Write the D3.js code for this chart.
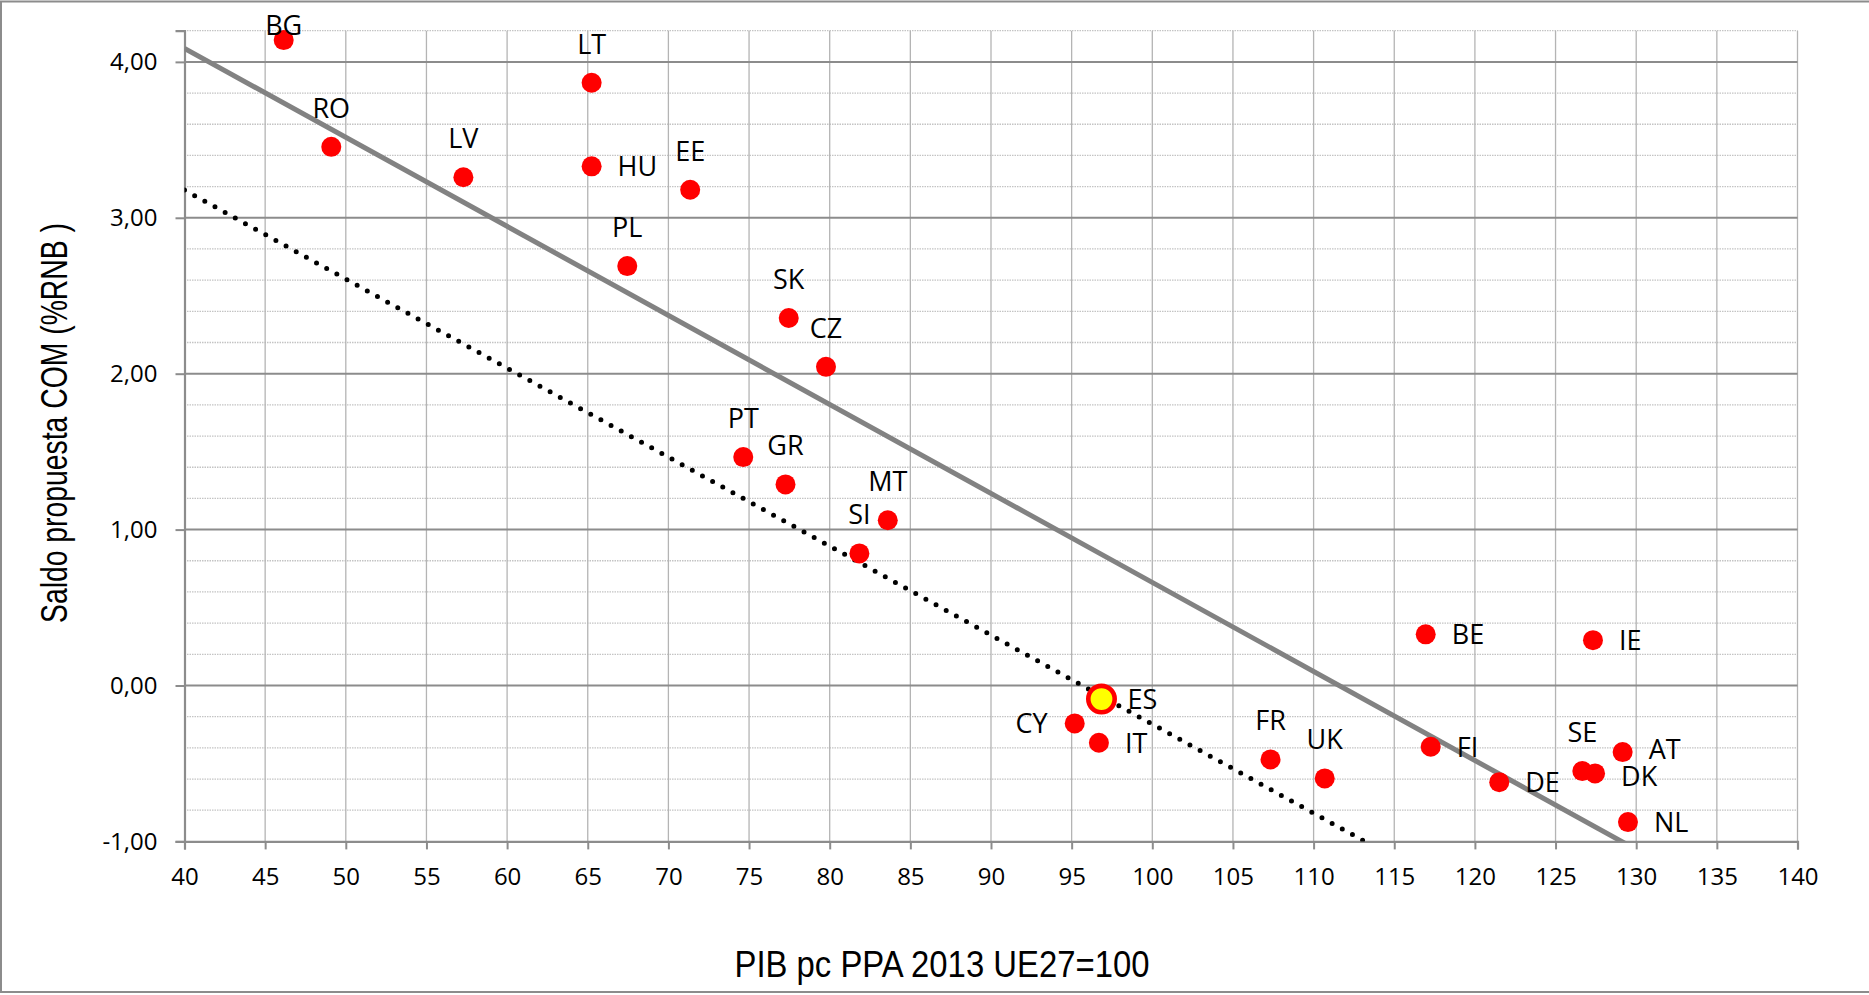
<!DOCTYPE html>
<html><head><meta charset="utf-8">
<script src="https://cdn.jsdelivr.net/npm/d3@7"></script>
<style>body{margin:0;background:#fff} svg{display:block}</style>
</head><body>
<svg id="chart" width="1869" height="995"></svg>
<script>
// ---- data ----
const countries = ["BG","RO","LV","LT","HU","EE","PL","SK","CZ","PT","GR","MT","SI","ES","CY","IT","FR","UK","BE","IE","FI","DE","SE","DK","AT","NL"];
const gdpPpa = [46.15,49.10,57.29,65.24,65.24,71.35,67.45,77.46,79.77,74.64,77.26,83.60,81.84,96.85,95.19,96.69,107.33,110.69,116.95,127.32,117.26,121.51,126.66,127.45,129.16,129.49];
const saldo  = [4.14,3.455,3.26,3.866,3.33,3.18,2.69,2.357,2.044,1.465,1.29,1.06,0.847,-0.087,-0.243,-0.367,-0.474,-0.596,0.328,0.291,-0.393,-0.62,-0.549,-0.564,-0.427,-0.876];
const highlight = "ES";
const xTicks = [40,45,50,55,60,65,70,75,80,85,90,95,100,105,110,115,120,125,130,135,140];
const yTicks = [-1,0,1,2,3,4];
const yMinor = [-0.8,-0.6,-0.4,-0.2,0.2,0.4,0.6,0.8,1.2,1.4,1.6,1.8,2.2,2.4,2.6,2.8,3.2,3.4,3.6,3.8,4.2];
const trendSlope = -0.0571;
const trendIntercept = 6.371;     // solid grey trend line
const spainIntercept = 5.462;     // dotted parallel line through ES
const xTitle = "PIB pc PPA 2013 UE27=100";
const yTitle = "Saldo propuesta COM (%RNB )";

// label placement (style)
const labelSide = {HU:"right",ES:"right",CY:"left",IT:"right",BE:"right",IE:"right",FI:"right",DE:"right",DK:"right",AT:"right",NL:"right"};
const labelNudge = {AT:-3, DK:3};

// ---- layout ----
const svg = d3.select("#chart");
const x = d3.scaleLinear().domain([40,140]).range([184.5,1797.5]);
const y = d3.scaleLinear().domain([-1,4.2]).range([841.4,30.7]);
const loc = d3.formatLocale({decimal:",",thousands:".",grouping:[3],currency:["","€"],minus:"-"});
const fmt = loc.format(".2f");
const tickFont = "'Open Sans', 'Noto Sans', sans-serif";
const titleFont = "'Liberation Sans Narrow','Arial Narrow','Liberation Sans',Arial,sans-serif";

// outer border
svg.append("rect").attr("x",1).attr("y",1.5).attr("width",1900).attr("height",990.5)
  .attr("fill","none").attr("stroke","#8c8c8c").attr("stroke-width",2);

const X0 = x.range()[0], X1 = x.range()[1], Y0 = y.range()[0], Y1 = y.range()[1];

// minor horizontal gridlines (dotted)
svg.append("g").selectAll("line").data(yMinor).join("line")
  .attr("x1",X0).attr("x2",X1).attr("y1",d=>y(d)).attr("y2",d=>y(d))
  .attr("stroke","#c4c4c4").attr("stroke-width",1.3).attr("stroke-dasharray","1.5 1");

// vertical gridlines
svg.append("g").selectAll("line").data(xTicks.slice(1)).join("line")
  .attr("x1",d=>x(d)).attr("x2",d=>x(d)).attr("y1",Y1).attr("y2",Y0)
  .attr("stroke","#b4b4b4").attr("stroke-width",1.3);

// major horizontal gridlines
svg.append("g").selectAll("line").data(yTicks.slice(1)).join("line")
  .attr("x1",X0).attr("x2",X1).attr("y1",d=>y(d)).attr("y2",d=>y(d))
  .attr("stroke","#8c8c8c").attr("stroke-width",2);

// axes
const xAxis = d3.axisBottom(x).tickValues(xTicks).tickSize(8).tickPadding(6).tickFormat(d=>d);
const gx = svg.append("g").attr("transform",`translate(0,${Y0})`).call(xAxis);
gx.select(".domain").attr("stroke","#8c8c8c").attr("stroke-width",2.2);
gx.selectAll(".tick line").attr("stroke","#8c8c8c").attr("stroke-width",2);
gx.selectAll("text").attr("font-family",tickFont).attr("font-size",24).attr("fill","#000")
  .attr("dy",null).attr("y",44);

const yAxis = d3.axisLeft(y).tickValues(yTicks).tickSize(9).tickPadding(18).tickFormat(fmt);
const gy = svg.append("g").attr("transform",`translate(${X0},0)`).call(yAxis);
gy.select(".domain").attr("stroke","#8c8c8c").attr("stroke-width",2.2);
gy.selectAll(".tick line").attr("stroke","#8c8c8c").attr("stroke-width",2);
gy.selectAll("text").attr("font-family",tickFont).attr("font-size",24).attr("fill","#000");

// clip for trend lines
svg.append("clipPath").attr("id","plotclip").append("rect")
  .attr("x",X0).attr("y",Y1).attr("width",X1-X0).attr("height",Y0-Y1);

const lineGen = d3.line().x(d=>x(d[0])).y(d=>y(d[1]));
const xs = x.domain();
svg.append("path").attr("clip-path","url(#plotclip)")
  .attr("d",lineGen(xs.map(v=>[v, trendIntercept + trendSlope*v])))
  .attr("fill","none").attr("stroke","#828282").attr("stroke-width",5);
svg.append("path").attr("clip-path","url(#plotclip)")
  .attr("d",lineGen(xs.map(v=>[v, spainIntercept + trendSlope*v])))
  .attr("fill","none").attr("stroke","#000").attr("stroke-width",5)
  .attr("stroke-linecap","round").attr("stroke-dasharray","0 11.6");

// points
const pts = countries.map((c,i)=>({c, gx:gdpPpa[i], s:saldo[i]}));
svg.append("g").selectAll("circle").data(pts).join("circle")
  .attr("cx",d=>x(d.gx)).attr("cy",d=>y(d.s))
  .attr("r",d=>d.c===highlight?13.2:10)
  .attr("fill",d=>d.c===highlight?"#ffff00":"#ff0000")
  .attr("stroke",d=>d.c===highlight?"#ff0000":"none")
  .attr("stroke-width",4.6);

// labels
svg.append("g").selectAll("text").data(pts).join("text")
  .attr("font-family",tickFont).attr("font-size",27).attr("fill","#000")
  .attr("text-anchor",d=>{const s=labelSide[d.c]; return s==="right"?"start":s==="left"?"end":"middle";})
  .attr("x",d=>{const s=labelSide[d.c]; const cx=x(d.gx); return s==="right"?cx+26:s==="left"?cx-27:cx;})
  .attr("y",d=>{const s=labelSide[d.c]; const cy=y(d.s); const n=labelNudge[d.c]||0; return (s? cy+10 : Math.max(cy-29,35)) + n;})
  .text(d=>d.c);

// axis titles
svg.append("text").attr("x",942).attr("y",977)
  .attr("text-anchor","middle").attr("font-family",titleFont).attr("font-size",37)
  .attr("textLength",415).attr("lengthAdjust","spacingAndGlyphs").attr("fill","#000")
  .text(xTitle);
svg.append("text").attr("transform","translate(67,423) rotate(-90)")
  .attr("text-anchor","middle").attr("font-family",titleFont).attr("font-size",37)
  .attr("textLength",400).attr("lengthAdjust","spacingAndGlyphs").attr("fill","#000")
  .text(yTitle);
</script>
</body></html>
